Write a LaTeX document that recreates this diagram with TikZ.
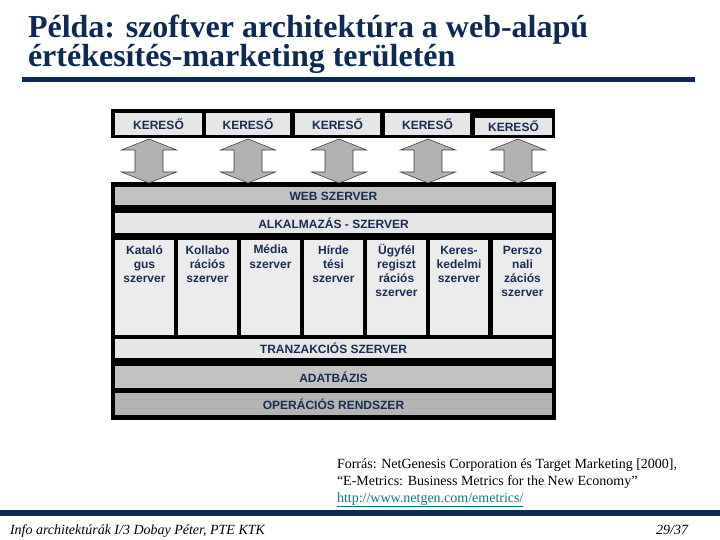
\documentclass[tikz,border=0pt]{standalone}
\usepackage{fontspec}
\setmainfont{Liberation Serif}
\setsansfont{Liberation Sans}
\usepackage{xcolor}
\usetikzlibrary{calc}
\definecolor{cimkek}{RGB}{14,42,84}
\definecolor{dobozkek}{RGB}{25,45,82}
\definecolor{linkszin}{RGB}{0,128,128}
\definecolor{halvany}{RGB}{230,230,230}
\definecolor{oszlopszurke}{RGB}{236,236,236}
\definecolor{kozepszurke}{RGB}{194,194,194}
\definecolor{sotetszurke}{RGB}{180,180,180}
\definecolor{nyilszurke}{RGB}{178,178,178}
% same first-line height in every column
\newcommand{\tamasz}{\rule{0pt}{12.5pt}}

\begin{document}
\begin{tikzpicture}[
    x=1pt, y=-1pt,
    inner sep=0pt, outer sep=0pt,
    doboz/.style={fill=#1, anchor=north west, text=dobozkek,
        font=\sffamily\bfseries\fontsize{12}{14}\selectfont},
    doboz/.default=halvany,
    keret/.style={fill=black, anchor=north west},
    felirat/.style={anchor=north, yshift=-1.5pt, align=center, text=dobozkek,
        font=\sffamily\bfseries\fontsize{12}{14}\selectfont},
    nyil/.style={fill=nyilszurke, draw=black!75, line width=0.6pt}
]
    \useasboundingbox (0,0) rectangle (720,540);

    % ==========================================
    % TITLE
    % ==========================================
    \node[anchor=base west, text=cimkek, font=\bfseries\fontsize{32}{29}\selectfont]
        (cim1) at (28,38) {Példa: szoftver architektúra a web-alapú};
    \node[anchor=base west, text=cimkek, font=\bfseries\fontsize{32}{29}\selectfont]
        (cim2) at (28,67) {értékesítés-marketing területén};
    \fill[cimkek] (22,77) rectangle (695,82);

    % ==========================================
    % KERESO ROW
    % ==========================================
    \node[keret, minimum width=444pt, minimum height=29pt] (keret1) at (111,109) {};
    \node[doboz, minimum width=87pt, minimum height=22pt] (k1) at (115,113) {KERESŐ};
    \node[doboz, minimum width=84pt, minimum height=22pt] (k2) at (206,113) {KERESŐ};
    \node[doboz, minimum width=85pt, minimum height=22pt] (k3) at (295,113) {KERESŐ};
    \node[doboz, minimum width=85pt, minimum height=22pt] (k4) at (385,113) {KERESŐ};
    \node[doboz, minimum width=77pt, minimum height=17pt] (k5) at (475,118) {KERESŐ};

    % ==========================================
    % SERVER STACK
    % ==========================================
    \node[keret, minimum width=445pt, minimum height=238pt] (keret2) at (111,182) {};
    \node[doboz=kozepszurke, minimum width=437pt, minimum height=18pt] (web) at (115,187) {WEB SZERVER};
    \node[doboz, minimum width=437pt, minimum height=20pt] (alk) at (115,213) {ALKALMAZÁS - SZERVER};

    % Server columns (text at the top)
    \node[doboz=oszlopszurke, minimum width=59pt, minimum height=95pt,
        label={[felirat]north:\tamasz Kataló\\gus\\szerver}] (o1) at (115,240) {};
    \node[doboz=oszlopszurke, minimum width=59pt, minimum height=95pt,
        label={[felirat]north:\tamasz Kollabo\\rációs\\szerver}] (o2) at (178,240) {};
    \node[doboz=oszlopszurke, minimum width=59pt, minimum height=95pt,
        label={[felirat]north:\tamasz Média\\szerver}] (o3) at (241,240) {};
    \node[doboz=oszlopszurke, minimum width=59pt, minimum height=95pt,
        label={[felirat]north:\tamasz Hírde\\tési\\szerver}] (o4) at (304,240) {};
    \node[doboz=oszlopszurke, minimum width=59pt, minimum height=95pt,
        label={[felirat]north:\tamasz Ügyfél\\regiszt\\rációs\\szerver}] (o5) at (367,240) {};
    \node[doboz=oszlopszurke, minimum width=58pt, minimum height=95pt,
        label={[felirat]north:\tamasz Keres-\\kedelmi\\szerver}] (o6) at (430,240) {};
    \node[doboz=oszlopszurke, minimum width=59pt, minimum height=95pt,
        label={[felirat]north:\tamasz Perszo\\nali\\zációs\\szerver}] (o7) at (493,240) {};

    \node[doboz, minimum width=437pt, minimum height=19pt] (tranz) at (115,339) {TRANZAKCIÓS SZERVER};
    \node[doboz=kozepszurke, minimum width=437pt, minimum height=22pt] (adat) at (115,366) {ADATBÁZIS};
    \node[doboz=sotetszurke, minimum width=437pt, minimum height=22pt] (oper) at (115,393) {OPERÁCIÓS RENDSZER};

    % Double block arrows (Kereso <-> Web szerver)
    \foreach \i/\dx in {1/-9.5, 2/0, 3/1.5, 4/0.5, 5/4.5}
        \draw[nyil] ($(k\i.south)+(\dx,4)$) coordinate (nyil\i)
            -- ++(27.5,11) -- ++(-13.5,0) -- ++(0,22) -- ++(13.5,0)
            -- ++(-27.5,11) -- ++(-27.5,-11) -- ++(13.5,0) -- ++(0,-22)
            -- ++(-13.5,0) -- cycle;

    % ==========================================
    % SOURCE AND FOOTER
    % ==========================================
    \node[anchor=north west, align=left, font=\fontsize{14}{16.7}\selectfont]
        (forras) at (337,459) {Forrás: NetGenesis Corporation és Target Marketing [2000],\\
        “E-Metrics: Business Metrics for the New Economy”\\
        \textcolor{linkszin}{\underline{http://www.netgen.com/emetrics/}}};

    \fill[cimkek] (0,510) rectangle (720,516);
    \node[anchor=base west, font=\itshape\fontsize{14}{16}\selectfont]
        (lablec) at (10,534) {Info architektúrák I/3 Dobay Péter, PTE KTK};
    \node[anchor=base east, font=\itshape\fontsize{14}{16}\selectfont]
        (oldalszam) at (688,534) {29/37};

\end{tikzpicture}
\end{document}
